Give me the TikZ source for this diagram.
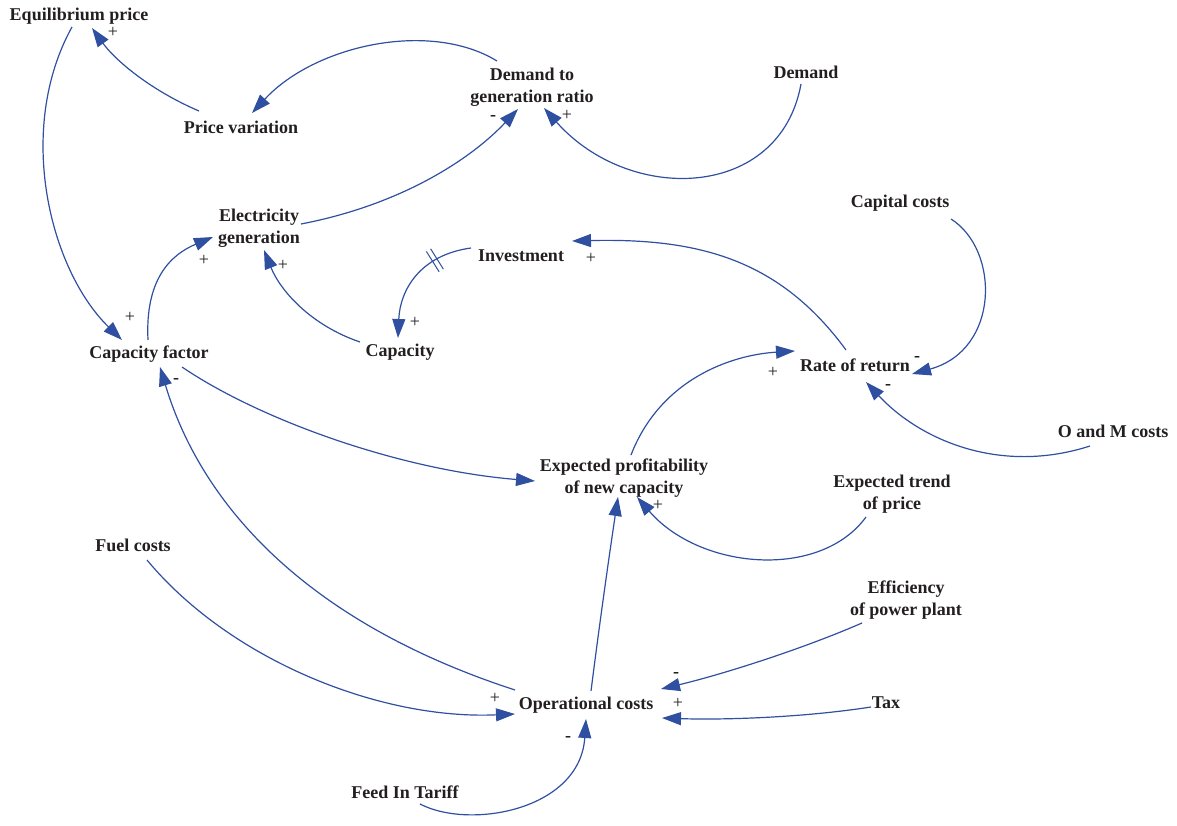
\documentclass[tikz,border=0pt]{standalone}
\usepackage{fontspec}
\setmainfont{Liberation Serif}
\usetikzlibrary{arrows.meta,decorations.markings}
\definecolor{link}{RGB}{47,79,160}
\definecolor{txt}{RGB}{35,31,32}
\begin{document}
\begin{tikzpicture}[x=1pt,y=-1pt,
 var/.style={font=\fontsize{18}{22}\selectfont\bfseries, text=txt, align=center, inner sep=0pt},
 lnk/.style={draw=link, line width=1.2pt, -{Triangle[length=19pt,width=13pt,fill=link]}},
 pol/.style={font=\fontsize{18}{18}\selectfont, text=txt, inner sep=0pt},
 neg/.style={font=\fontsize{18}{18}\selectfont\bfseries, text=txt, inner sep=0pt},
 delay/.style={postaction={decorate, decoration={markings, mark=at position #1 with {
   \draw[link, line width=1pt, arrows=-] (-2.5pt,-12pt) -- (-2.5pt,12pt);
   \draw[link, line width=1pt, arrows=-] (2.5pt,-12pt) -- (2.5pt,12pt);}}}}]

\useasboundingbox (0,0) rectangle (1177,826);

% variables
\node[var] (ep)  at (79,16)   {Equilibrium price};
\node[var] (pv)  at (241,127) {Price variation};
\node[var] (dg)  at (532,87)  {Demand to\\generation ratio};
\node[var] (dm)  at (806,72)  {Demand};
\node[var] (eg)  at (259,228) {Electricity\\generation};
\node[var] (inv) at (521,256) {Investment};
\node[var] (cap) at (400,352) {Capacity};
\node[var] (cc)  at (900,203) {Capital costs};
\node[var] (cf)  at (149,354) {Capacity factor};
\node[var] (rr)  at (855,365) {Rate of return};
\node[var] (om)  at (1113,431) {O and M costs};
\node[var] (epn) at (624,478) {Expected profitability\\of new capacity};
\node[var] (et)  at (892,494) {Expected trend\\of price};
\node[var] (fc)  at (133,545) {Fuel costs};
\node[var] (eff) at (906,600) {Efficiency\\of power plant};
\node[var] (oc)  at (586,705) {Operational costs};
\node[var] (tax) at (886,703) {Tax};
\node[var] (fit) at (405,792) {Feed In Tariff};

% links
\draw[lnk] ([shift={(-42,-16)}]pv.center) .. controls (150,90) and (115,60) .. ([shift={(13,12)}]ep.center);
\draw[lnk] ([shift={(-35,-26)}]dg.center) .. controls (430,20) and (315,45) .. ([shift={(11,-14)}]pv.center);
\draw[lnk] ([shift={(-5,12)}]dm.center) .. controls (780,200) and (630,205) .. ([shift={(12,21)}]dg.center);
\draw[lnk] ([shift={(42,-4)}]eg.center) .. controls (400,205) and (470,160) .. ([shift={(-14,22)}]dg.center);
\draw[lnk] ([shift={(-7,11)}]ep.center) .. controls (15,130) and (50,270) .. ([shift={(-27,-14)}]cf.center);
\draw[lnk] ([shift={(-1,-14)}]cf.center) .. controls (145,280) and (170,255) .. ([shift={(-46,9)}]eg.center);
\draw[lnk] ([shift={(-40,-10)}]cap.center) .. controls (310,325) and (280,290) .. ([shift={(5,22)}]eg.center);
\draw[lnk, delay=0.3] ([shift={(-50,-8)}]inv.center) .. controls (420,255) and (400,290) .. ([shift={(-2,-14)}]cap.center);
\draw[lnk] ([shift={(-9,-15)}]rr.center) .. controls (780,260) and (700,238) .. ([shift={(51,-15)}]inv.center);
\draw[lnk] ([shift={(51,16)}]cc.center) .. controls (1000,250) and (1000,350) .. ([shift={(57,9)}]rr.center);
\draw[lnk] ([shift={(-23,15)}]om.center) .. controls (1000,475) and (920,440) .. ([shift={(11,17)}]rr.center);
\draw[lnk] ([shift={(33,13)}]cf.center) .. controls (260,420) and (400,470) .. ([shift={(-89,3)}]epn.center);
\draw[lnk] ([shift={(7,-23)}]epn.center) .. controls (660,380) and (730,355) .. ([shift={(-60,-14)}]rr.center);
\draw[lnk] ([shift={(-26,23)}]et.center) .. controls (820,580) and (700,570) .. ([shift={(13,19)}]epn.center);
\draw[lnk] ([shift={(-71,-15)}]oc.center) .. controls (300,620) and (200,500) .. ([shift={(11,13)}]cf.center);
\draw[lnk] ([shift={(5,-14)}]oc.center) .. controls (600,620) and (610,550) .. ([shift={(-6,19)}]epn.center);
\draw[lnk] ([shift={(14,15)}]fc.center) .. controls (230,660) and (380,720) .. ([shift={(-71,9)}]oc.center);
\draw[lnk] ([shift={(-44,23)}]eff.center) .. controls (800,650) and (720,675) .. ([shift={(75,-16)}]oc.center);
\draw[lnk] ([shift={(-15,4)}]tax.center) .. controls (800,718) and (720,720) .. ([shift={(76,13)}]oc.center);
\draw[lnk] ([shift={(15,12)}]fit.center) .. controls (470,830) and (580,810) .. ([shift={(0,14)}]oc.center);

% polarities
\node[pol] (p1)  at (113,32)  {+};
\node[pol] (p2)  at (567,115) {+};
\node[neg] (p3)  at (493,118) {-};
\node[pol] (p4)  at (130,317) {+};
\node[pol] (p5)  at (204,260) {+};
\node[pol] (p6)  at (283,265) {+};
\node[pol] (p7)  at (415,322) {+};
\node[pol] (p8)  at (591,258) {+};
\node[neg] (p9)  at (917,359) {-};
\node[neg] (p10) at (888,387) {-};
\node[pol] (p11) at (773,372) {+};
\node[pol] (p12) at (658,505) {+};
\node[neg] (p13) at (176,381) {-};
\node[pol] (p14) at (495,698) {+};
\node[neg] (p15) at (676,675) {-};
\node[pol] (p16) at (678,703) {+};
\node[neg] (p17) at (568,739) {-};
\end{tikzpicture}
\end{document}
